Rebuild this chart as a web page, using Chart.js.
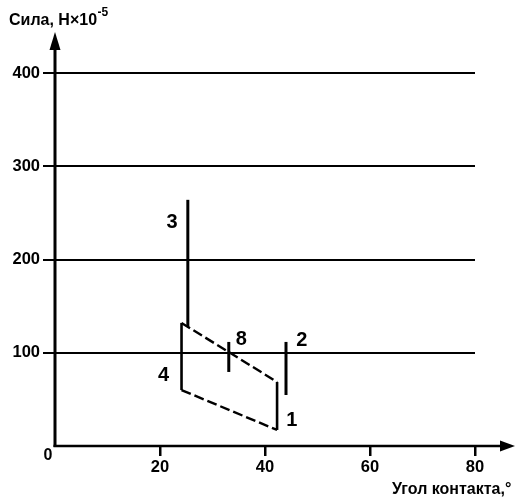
<!DOCTYPE html>
<html>
<head>
<meta charset="utf-8">
<script src="https://cdn.jsdelivr.net/npm/chart.js@4.4.1/dist/chart.umd.min.js"></script>
<style>
html,body{margin:0;padding:0;background:#fff;}
#wrap{width:515px;height:501px;position:relative;}
</style>
</head>
<body>
<div id="wrap"><canvas id="c" width="515" height="501"></canvas></div>
<script>
// ---- data ----
const xTicks = [0, 20, 40, 60, 80];
const yTicks = [0, 100, 200, 300, 400];
const yAxisTitle = 'Сила, Н×10';
const yAxisTitleSup = '-5';
const xAxisTitle = 'Угол контакта,°';

// curve 3 (vertical segment)
const line3X = [25.3, 25.3];
const line3Y = [127.7, 264];
// curve 4 (left vertical of the band)
const line4X = [24.1, 24.1];
const line4Y = [60, 132];
// upper dashed boundary
const upperX = [24.1, 42.3];
const upperY = [132, 68.7];
// lower dashed boundary
const lowerX = [24.1, 42.3];
const lowerY = [60, 17.2];
// curve 1 (right vertical of the band)
const line1X = [42.3, 42.3];
const line1Y = [17.2, 68.7];
// curve 8
const line8X = [33.1, 33.1];
const line8Y = [79.4, 111.6];
// curve 2
const line2X = [44.0, 44.0];
const line2Y = [54.7, 111.6];

// curve labels
const labelTexts = ['3', '4', '8', '2', '1'];
const labelX = [22.3, 20.7, 35.5, 47.0, 45.1];
const labelY = [239.6, 75.1, 114.5, 113, 27.1];

const FONT = '"Liberation Sans", Arial, Helvetica, sans-serif';

function pts(xs, ys) { return xs.map((x, i) => ({x: x, y: ys[i]})); }
function seg(xs, ys, width, dash) {
  return {
    data: pts(xs, ys), showLine: true, pointRadius: 0, borderColor: '#000',
    backgroundColor: '#000', borderWidth: width, borderDash: dash || [],
    borderCapStyle: 'butt', fill: false, tension: 0
  };
}

const decor = {
  id: 'decor',
  afterDraw(chart) {
    const ctx = chart.ctx;
    const xs = chart.scales.x, ys = chart.scales.y;
    const x0 = xs.getPixelForValue(0), y0 = ys.getPixelForValue(0);
    ctx.save();
    ctx.fillStyle = '#000';
    ctx.strokeStyle = '#000';
    // y axis with arrow
    ctx.lineWidth = 3;
    ctx.beginPath(); ctx.moveTo(x0, y0 + 1); ctx.lineTo(x0, 46); ctx.stroke();
    ctx.beginPath(); ctx.moveTo(x0, 32); ctx.lineTo(x0 - 5.5, 50); ctx.lineTo(x0 + 5.5, 50); ctx.closePath(); ctx.fill();
    // x axis with arrow
    ctx.lineWidth = 2.5;
    ctx.beginPath(); ctx.moveTo(x0 - 1.5, y0); ctx.lineTo(503, y0); ctx.stroke();
    ctx.beginPath(); ctx.moveTo(515, y0); ctx.lineTo(500, y0 - 5.5); ctx.lineTo(500, y0 + 5.5); ctx.closePath(); ctx.fill();
    // "0"
    ctx.font = 'bold 16px ' + FONT;
    ctx.textAlign = 'center'; ctx.textBaseline = 'middle';
    ctx.fillText(String(xTicks[0]), 48, 456);
    // axis titles
    ctx.textAlign = 'left'; ctx.textBaseline = 'alphabetic';
    ctx.font = 'bold 16px ' + FONT;
    ctx.fillText(yAxisTitle, 9, 25);
    const w = ctx.measureText(yAxisTitle).width;
    ctx.font = 'bold 12px ' + FONT;
    ctx.fillText(yAxisTitleSup, 9 + w + 0.5, 16);
    ctx.font = 'bold 16px ' + FONT;
    ctx.fillText(xAxisTitle, 392, 494);
    // curve labels
    ctx.font = 'bold 20px ' + FONT;
    ctx.textAlign = 'center'; ctx.textBaseline = 'middle';
    labelTexts.forEach((t, i) => {
      ctx.fillText(t, xs.getPixelForValue(labelX[i]), ys.getPixelForValue(labelY[i]));
    });
    ctx.restore();
  }
};

new Chart(document.getElementById('c'), {
  type: 'scatter',
  data: {
    datasets: [
      seg(line3X, line3Y, 3),
      seg(line4X, line4Y, 2.6),
      seg(upperX, upperY, 2.4, [10, 4]),
      seg(lowerX, lowerY, 2.4, [10, 4]),
      seg(line1X, line1Y, 2.6),
      seg(line8X, line8Y, 3),
      seg(line2X, line2Y, 3)
    ]
  },
  options: {
    responsive: false,
    animation: false,
    events: [],
    layout: {padding: {top: 73, right: 40, left: 0, bottom: 0}},
    plugins: {legend: {display: false}, tooltip: {enabled: false}, title: {display: false}},
    scales: {
      x: {
        type: 'linear', min: xTicks[0], max: xTicks[xTicks.length - 1],
        afterFit(s) { s.height = 55; },
        afterBuildTicks(s) { s.ticks = xTicks.map(v => ({value: v})); },
        border: {display: false},
        grid: {
          drawOnChartArea: false, drawTicks: true, tickLength: 10, lineWidth: 2.5,
          color: c => (c.tick && c.tick.value === 0) ? 'rgba(0,0,0,0)' : '#000'
        },
        ticks: {
          color: '#000', padding: 2, maxRotation: 0, autoSkip: false,
          font: {family: FONT, size: 16.5, weight: 'bold'},
          callback: v => v === 0 ? '' : String(v)
        }
      },
      y: {
        type: 'linear', min: yTicks[0], max: yTicks[yTicks.length - 1],
        afterFit(s) { s.width = 55; },
        afterBuildTicks(s) { s.ticks = yTicks.map(v => ({value: v})); },
        border: {display: false},
        grid: {
          drawTicks: true, tickLength: 12, lineWidth: 2,
          color: c => (c.tick && c.tick.value === 0) ? 'rgba(0,0,0,0)' : '#000'
        },
        ticks: {
          color: '#000', padding: 3, autoSkip: false,
          font: {family: FONT, size: 16.5, weight: 'bold'},
          callback: v => v === 0 ? '' : String(v)
        }
      }
    }
  },
  plugins: [decor]
});
</script>
</body>
</html>
